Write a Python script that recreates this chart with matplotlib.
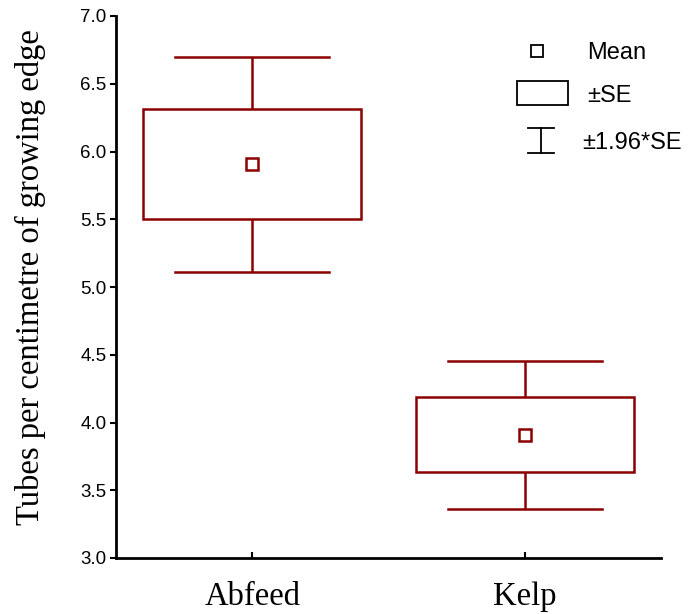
import matplotlib
matplotlib.use("Agg")
import matplotlib.pyplot as plt
from matplotlib.patches import Rectangle
from matplotlib.lines import Line2D

# group summaries: mean and standard error
groups = ["Abfeed", "Kelp"]
means = [5.905, 3.908]
se = [0.405, 0.277]

red = "#8B0000"
box_w = 0.8
cap_w = 0.566

fig = plt.figure(figsize=(6.96, 6.14), dpi=100)
ax = fig.add_axes([116 / 696, 56 / 614, 545 / 696, 542 / 614])

for i, (m, s) in enumerate(zip(means, se)):
    lo, hi = m - s, m + s
    wlo, whi = m - 1.96 * s, m + 1.96 * s
    ax.add_patch(Rectangle((i - box_w / 2, lo), box_w, hi - lo, fill=False,
                           edgecolor=red, linewidth=1.8, zorder=3))
    ax.plot([i, i], [hi, whi], color=red, lw=1.8, solid_capstyle="butt")
    ax.plot([i, i], [wlo, lo], color=red, lw=1.8, solid_capstyle="butt")
    ax.plot([i - cap_w / 2, i + cap_w / 2], [whi, whi], color=red, lw=1.8)
    ax.plot([i - cap_w / 2, i + cap_w / 2], [wlo, wlo], color=red, lw=1.8)
    ax.plot([i], [m], marker="s", ms=8, mfc="white", mec=red, mew=1.8, zorder=4)

ax.set_xlim(-0.5, 1.5)
ax.set_ylim(3.0, 7.0)
ax.set_yticks([3.0, 3.5, 4.0, 4.5, 5.0, 5.5, 6.0, 6.5, 7.0])
ax.set_yticklabels([f"{v:.1f}" for v in ax.get_yticks()],
                   fontsize=13.5, family="Liberation Sans")
ax.set_xticks(range(len(groups)))
ax.set_xticklabels(groups, fontsize=23.5, family="Liberation Serif")
ax.tick_params(axis="y", direction="out", length=4, width=1.5, pad=3)
ax.tick_params(axis="x", direction="in", length=4, width=1.5, pad=17)
for side in ["top", "right"]:
    ax.spines[side].set_visible(False)
for side in ["left", "bottom"]:
    ax.spines[side].set_linewidth(2)
ax.set_ylabel("Tubes per centimetre of growing edge", fontsize=23.5,
              family="Liberation Serif")
ax.yaxis.set_label_coords(-0.128, 0.5175)

# key drawn in axes coordinates
tr = ax.transAxes
ax.add_line(Line2D([0.7725], [0.9354], marker="s", ms=8, mfc="white",
                   mec="black", mew=1.3, transform=tr, clip_on=False))
ax.add_patch(Rectangle((0.7358, 0.8358), 0.0936, 0.0443, fill=False,
                       edgecolor="black", lw=1.3, transform=tr, clip_on=False))
ax.add_line(Line2D([0.7798, 0.7798], [0.7472, 0.7934], color="black", lw=1.3,
                   transform=tr, clip_on=False))
ax.add_line(Line2D([0.756, 0.8037], [0.7934, 0.7934], color="black", lw=1.3,
                   transform=tr, clip_on=False))
ax.add_line(Line2D([0.756, 0.8037], [0.7472, 0.7472], color="black", lw=1.3,
                   transform=tr, clip_on=False))
key_font = dict(fontsize=17, family="Liberation Sans", va="center", transform=tr)
ax.text(0.8642, 0.9317, "Mean", **key_font)
ax.text(0.8642, 0.8524, "±SE", **key_font)
ax.text(0.8550, 0.7657, "±1.96*SE", **key_font)

fig.savefig("out.png", dpi=100)
